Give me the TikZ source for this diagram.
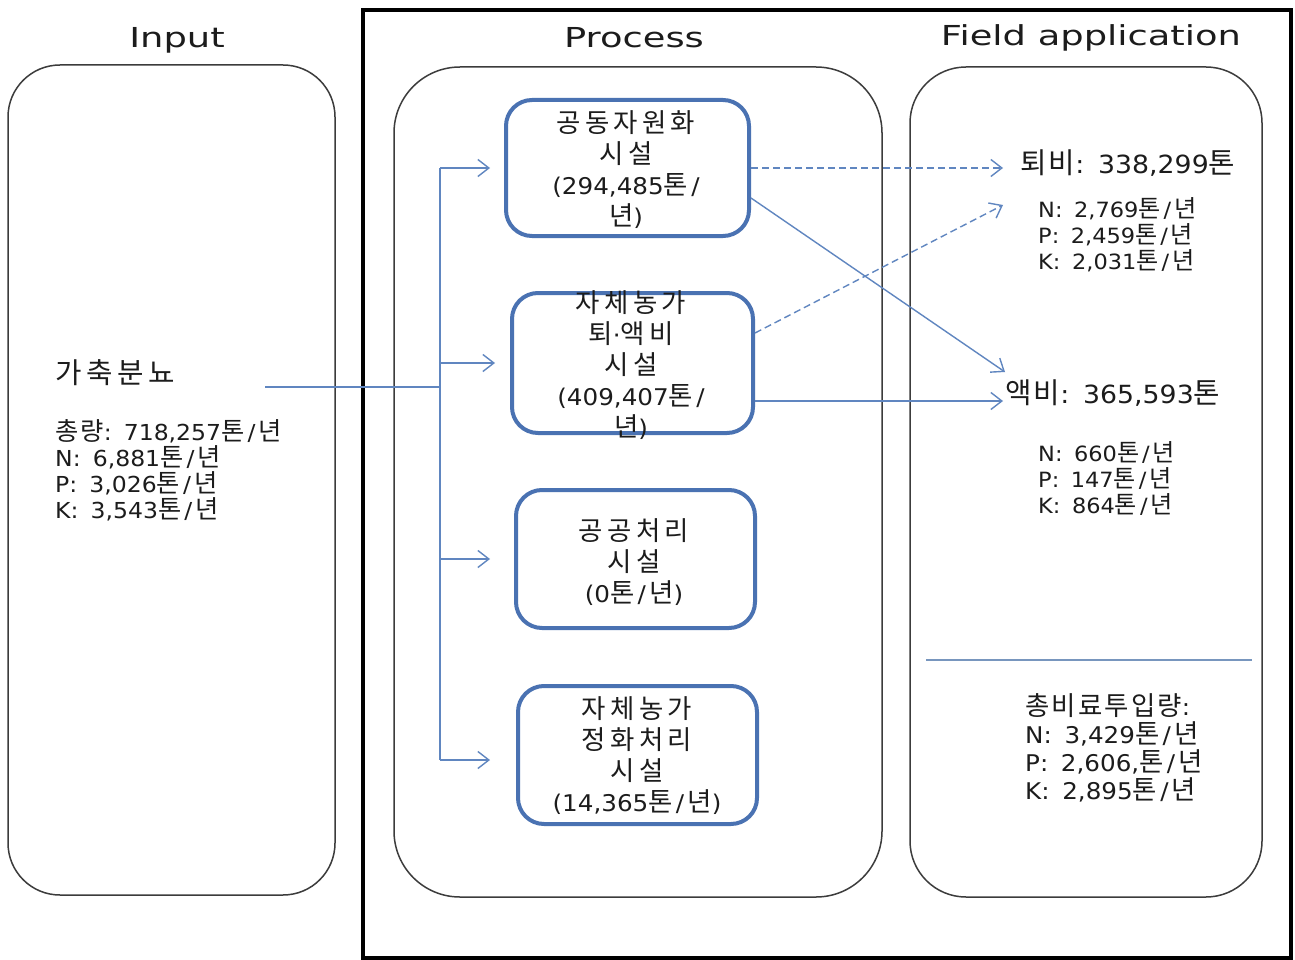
\documentclass[tikz,border=0pt]{standalone}
\usepackage{fontspec}
\setmainfont{DejaVu Sans}[FakeStretch=1.07]
\newfontfamily\titlefont{DejaVu Sans}[FakeStretch=1.34]
\newfontfamily\krfont{Noto Sans CJK KR}[Scale=1.15,LetterSpace=8]
\newfontfamily\krwide{Noto Sans CJK KR}[Scale=1.15,LetterSpace=16]
\newcommand\hg[1]{{\krfont #1}}
\newcommand\hgw[1]{{\krwide #1}}
\newcommand\setfs[2]{\fontsize{#1}{#2}\selectfont}
% "tons per year" unit and a colon followed by a wide gap
\newcommand\tpy{\hg{톤}\kern.14em/\kern.14em\hg{년}}
\newcommand\colsp{:\hspace{.55em}}
\usetikzlibrary{arrows.meta}

\definecolor{boxblue}{RGB}{74,114,178}
\definecolor{arrowblue}{RGB}{96,134,192}
\definecolor{framegray}{RGB}{60,60,60}
\definecolor{inkgray}{RGB}{28,28,28}
\definecolor{rulegray}{RGB}{120,150,190}

\tikzset{
  panel/.style={draw=framegray, line width=1.5pt},
  facility/.style={draw=boxblue, line width=4pt, rounded corners=26pt, inner sep=0pt},
  txt/.style={inner sep=0pt, text=inkgray},
  title/.style={txt, font=\titlefont\setfs{27.5}{30}},
  boxtext/.style={txt, align=center, font=\setfs{23}{31}},
  flow/.style={draw=arrowblue, line width=1.4pt,
    -{Straight Barb[length=11pt,width=17pt,line width=1.4pt]}},
  dashflow/.style={flow, dash pattern=on 7pt off 4pt},
  feed/.style={draw=arrowblue, line width=1.4pt},
}

\begin{document}
\begin{tikzpicture}[x=1pt,y=-1pt]
\useasboundingbox (0,0) rectangle (1295,960);
\fill[white] (0,0) rectangle (1295,960);

% outer frame around process and field application
\draw[black, line width=4.5pt] (363,10) rectangle (1291,958);

% column titles
\node[title] (tin) at (177,40) {Input};
\node[title] (tpr) at (634,38) {Process};
\node[title] (tfa) at (1091,38) {Field application};

% column panels
\draw[panel, rounded corners=52pt] (8,65) rectangle (335,895);
\draw[panel, rounded corners=66pt] (394,67) rectangle (882,897);
\draw[panel, rounded corners=56pt] (910,67) rectangle (1262,897);

% input column
\node[txt, anchor=west, font=\setfs{25}{28}] (src) at (55,373) {\hgw{가축분뇨}};
\node[txt, anchor=west, align=left, font=\setfs{22}{26}] (srcq) at (55,470)
  {\hg{총량}\colsp 718,257\tpy\\N\colsp 6,881\tpy\\P\colsp 3,026\tpy\\K\colsp 3,543\tpy};

% treatment facilities
\node[facility, minimum width=243pt, minimum height=136pt] (b1) at (627.5,168) {};
\node[facility, minimum width=241pt, minimum height=140pt] (b2) at (632.5,363) {};
\node[facility, minimum width=239pt, minimum height=138pt] (b3) at (635.5,559) {};
\node[facility, minimum width=239pt, minimum height=138pt] (b4) at (637.5,755) {};

\node[boxtext] (t1) at (626,170) {\hgw{공동자원화}\\\hgw{시설}\\(294,485\hg{톤}\kern.14em/\\\hg{년})};
\node[boxtext] (t2) at (631,365) {\hgw{자체농가}\\\hgw{퇴}·\hgw{액비}\\\hgw{시설}\\(409,407\hg{톤}\kern.14em/\\\hg{년})};
\node[boxtext] (t3) at (634,562) {\hgw{공공처리}\\\hgw{시설}\\(0\tpy)};
\node[boxtext] (t4) at (637,756) {\hgw{자체농가}\\\hgw{정화처리}\\\hgw{시설}\\(14,365\tpy)};

% distribution bus from the input to every facility
\coordinate (s0) at (265,387);
\coordinate (j0) at (440,387);
\coordinate (j1) at (440,168);
\coordinate (j2) at (440,363);
\coordinate (j3) at (440,559);
\coordinate (j4) at (440,760);
\draw[feed] (s0) -- (j0);
\draw[feed] (j1) -- (j4);
\draw[flow] (j1) -- ([xshift=-14pt]b1.west |- j1);
\draw[flow] (j2) -- ([xshift=-15pt]b2.west |- j2);
\draw[flow] (j3) -- ([xshift=-24pt]b3.west |- j3);
\draw[flow] (j4) -- ([xshift=-26pt]b4.west |- j4);

% field application column
\node[txt, anchor=west, font=\setfs{25}{28}] (solid) at (1020,163) {\hg{퇴비}\colsp 338,299\hg{톤}};
\node[txt, anchor=west, align=left, font=\setfs{21}{26}] (solidq) at (1038,235)
  {N\colsp 2,769\tpy\\P\colsp 2,459\tpy\\K\colsp 2,031\tpy};
\node[txt, anchor=west, font=\setfs{25}{28}] (liquid) at (1005,393) {\hg{액비}\colsp 365,593\hg{톤}};
\node[txt, anchor=west, align=left, font=\setfs{21}{26}] (liquidq) at (1038,478)
  {N\colsp 660\tpy\\P\colsp 147\tpy\\K\colsp 864\tpy};
\draw[draw=rulegray, line width=1.5pt] (926,660) -- (1252,660);
\node[txt, anchor=west, align=left, font=\setfs{23}{28}] (total) at (1025,748)
  {\hg{총비료투입량}:\\N\colsp 3,429\tpy\\P\colsp 2,606,\tpy\\K\colsp 2,895\tpy};

% product flows
\coordinate (e1) at (1003,168);
\coordinate (e2) at (1003,205);
\coordinate (e3) at (1005,372);
\coordinate (e4) at (1003,401);
\draw[dashflow] (b1.east |- e1) -- (e1);
\draw[dashflow] ([yshift=30pt]b2.east) -- (e2);
\draw[flow] ([yshift=-30pt]b1.east) -- (e3);
\draw[flow] ([yshift=-38pt]b2.east) -- (e4);
\end{tikzpicture}
\end{document}
